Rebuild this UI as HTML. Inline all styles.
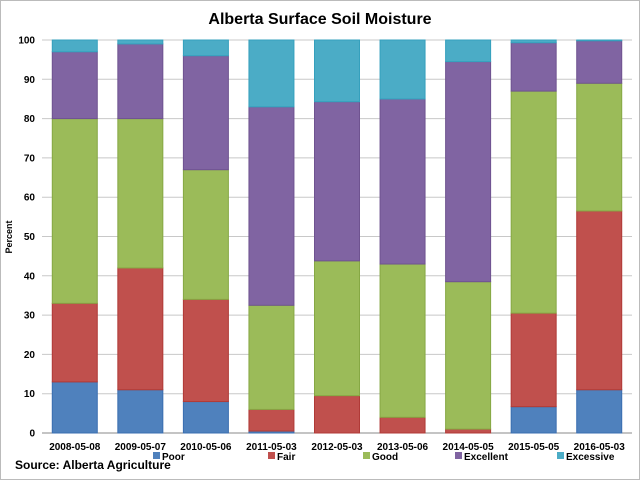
<!DOCTYPE html>
<html><head><meta charset="utf-8"><style>
body{margin:0;background:#fff;}
svg{display:block;font-family:"Liberation Sans",sans-serif;}
</style></head><body>
<svg id="chart" width="640" height="480">
<rect x="0.5" y="0.5" width="639" height="479" fill="#fff" stroke="#bbb"/>
<text x="320" y="24" text-anchor="middle" font-size="16" font-weight="bold" fill="#000">Alberta Surface Soil Moisture</text>
<text x="12" y="237" text-anchor="middle" font-size="9" font-weight="bold" transform="rotate(-90 12 237)">Percent</text>
<text x="15" y="469" font-size="12" font-weight="bold">Source: Alberta Agriculture</text>
<g id="grid"></g><g id="bars"></g><g id="axes"></g><g id="legend"></g>
</svg>
<script>
const categories=["2008-05-08","2009-05-07","2010-05-06","2011-05-03","2012-05-03","2013-05-06","2014-05-05","2015-05-05","2016-05-03"];
const seriesNames=["Poor","Fair","Good","Excellent","Excessive"];
const poor=[13,11,8,0.5,0,0,0,6.7,11];
const fair=[20,31,26,5.5,9.5,4,1,23.8,45.5];
const good=[47,38,33,26.5,34.3,39,37.5,56.5,32.5];
const excellent=[17,19,29,50.5,40.5,42,56,12.3,10.8];
const excessive=[3,1,4,17,15.7,15,5.5,0.7,0.2];
const yTicks=[0,10,20,30,40,50,60,70,80,90,100];
const colors=["#4f81bd","#c0504d","#9bbb59","#8064a2","#4bacc6"];
const strokes=["#3a6eb0","#b03a37","#86a844","#6f5390","#35a0bd"];
const X0=42,X1=632,Y0=433,Y1=40;
const NS="http://www.w3.org/2000/svg";
const y=v=>Y0-(v/100)*(Y0-Y1);
const band=(X1-X0)/categories.length;
const xc=i=>X0+band*(i+0.5);
const BW=45;
function mk(t,a,p){const e=document.createElementNS(NS,t);for(const k in a)e.setAttribute(k,a[k]);p.appendChild(e);return e;}
const grid=document.getElementById('grid'),axes=document.getElementById('axes'),bars=document.getElementById('bars'),leg=document.getElementById('legend');
yTicks.forEach(t=>{
 const l=mk('line',{x1:X0,x2:X1,y1:y(t),y2:y(t),stroke:t===0?'#888':'#c8c8c8','stroke-width':1},grid);
 
 
 const tx=mk('text',{x:X0-7,y:y(t)+3.5,'text-anchor':'end','font-size':'10','font-weight':'bold'},axes);
 tx.textContent=t;
 
 
});
const all=[poor,fair,good,excellent,excessive];
categories.forEach((c,i)=>{
 let acc=0;
 all.forEach((s,k)=>{
  const v=s[i];if(v<=0){return;}
  const r=mk('rect',{x:xc(i)-BW/2,y:y(acc+v),width:BW,height:y(acc)-y(acc+v),fill:colors[k],stroke:strokes[k],'stroke-width':1},bars);
  
  
  acc+=v;
 });
 const tx=mk('text',{x:xc(i),y:450,'text-anchor':'middle','font-size':'10','font-weight':'bold'},axes);
 tx.textContent=c;
 
 
});
const legX=[153,268,363,455,557];
seriesNames.forEach((n,k)=>{
 const r=mk('rect',{x:legX[k],y:452,width:7,height:7,fill:colors[k]},leg);
 
 
 const t=mk('text',{x:legX[k]+9,y:460,'font-size':'10','font-weight':'bold'},leg);
 t.textContent=n;
 
 
});
</script>
</body></html>
